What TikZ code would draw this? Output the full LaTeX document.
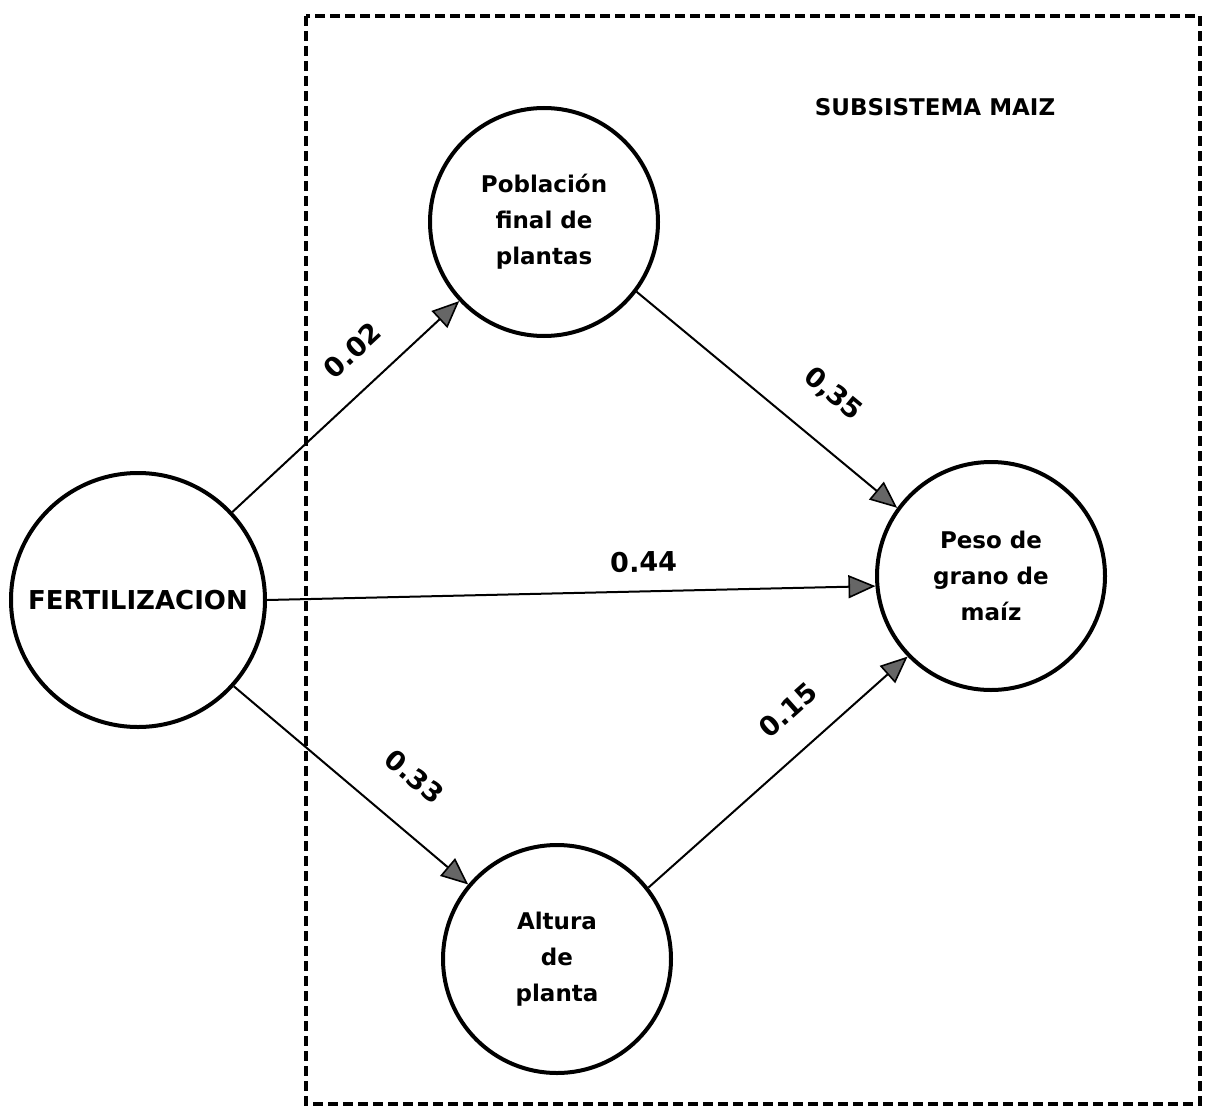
\documentclass[tikz,border=0pt]{standalone}
\usepackage{fontspec}
\setmainfont{DejaVu Sans}
\usetikzlibrary{arrows.meta}
\begin{document}
\begin{tikzpicture}[x=1pt,y=-1pt,
  var/.style={circle,draw,line width=4pt,inner sep=0pt,minimum size=228pt,
    font=\bfseries\fontsize{23}{36}\selectfont,align=center},
  link/.style={line width=2pt,
    -{Triangle[length=27pt,width=23pt,line width=1.6pt,fill=black!60]}},
  coef/.style={font=\bfseries\fontsize{27}{30}\selectfont,sloped,pos=0.64}]
\useasboundingbox (0,0) rectangle (1206,1110);
% subsystem boundary
\draw[line width=3.6pt,dash pattern=on 10pt off 5pt] (306,16) rectangle (1200,1104);
\node[font=\bfseries\fontsize{23}{27}\selectfont] (sub) at (935,107) {SUBSISTEMA MAIZ};
% variables
\node[var,minimum size=254pt,font=\bfseries\fontsize{26}{30}\selectfont] (fert) at (138,600) {FERTILIZACION};
\node[var] (pob) at (544,222) {Población\\final de\\plantas};
\node[var] (peso) at (991,576) {Peso de\\grano de\\maíz};
\node[var] (alt) at (557,959) {Altura\\de\\planta};
% path coefficients
\draw[link] (fert.43) -- (pob.223) node[coef,above=22pt] {0.02};
\draw[link] (pob.-37) -- (peso.144) node[coef,above=30pt] {0,35};
\draw[link] (fert.0) -- (peso.185) node[coef,pos=0.62,above=15pt] {0.44};
\draw[link] (fert.-42) -- (alt.140) node[coef,above=33pt] {0.33};
\draw[link] (alt.38) -- (peso.224) node[coef,above=25pt] {0.15};
\end{tikzpicture}
\end{document}
